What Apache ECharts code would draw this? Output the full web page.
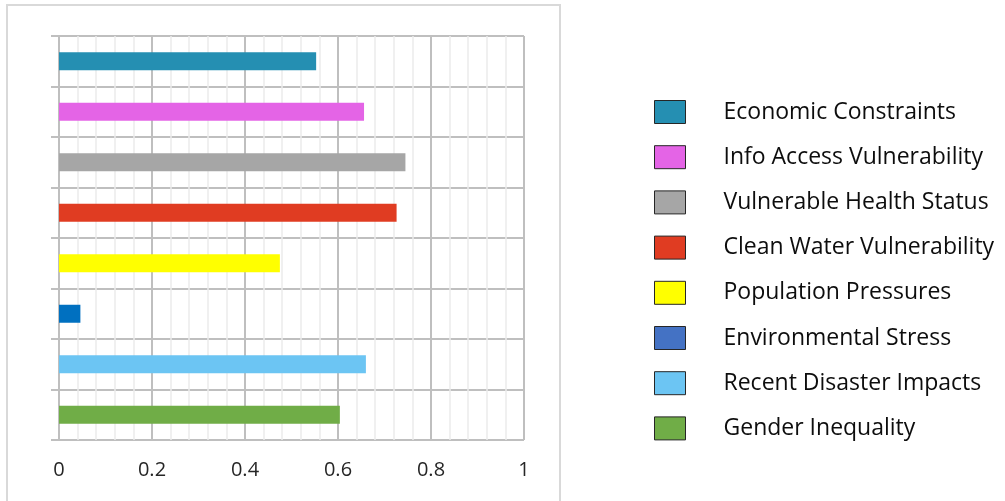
<!DOCTYPE html>
<html>
<head>
<meta charset="utf-8">
<script src="https://cdn.jsdelivr.net/npm/echarts@6/dist/echarts.min.js"></script>
<style>
  html, body { margin: 0; padding: 0; background: #fff; }
  #chart { width: 1005px; height: 501px; }
</style>
</head>
<body>
<div id="chart"></div>
<script>
const categories = [
  'Economic Constraints',
  'Info Access Vulnerability',
  'Vulnerable Health Status',
  'Clean Water Vulnerability',
  'Population Pressures',
  'Environmental Stress',
  'Recent Disaster Impacts',
  'Gender Inequality'
]
const values = [0.553, 0.656, 0.745, 0.726, 0.475, 0.046, 0.66, 0.604]
const barColors = ['#258fb2', '#e464e6', '#a6a6a6', '#e03c22', '#ffff00', '#0070c0', '#6cc5f3', '#70ad47']
const legendColors = ['#258fb2', '#e464e6', '#a6a6a6', '#e03c22', '#ffff00', '#4472c4', '#6cc5f3', '#70ad47']
const xTicks = [0, 0.2, 0.4, 0.6, 0.8, 1]

const FONT = '"Open Sans", sans-serif'
const GRID = '#bfbfbf'

const chart = echarts.init(document.getElementById('chart'), null, { renderer: 'canvas' })

// one series per category so each gets its own legend entry
const series = categories.map((name, i) => ({
  name,
  type: 'bar',
  stack: 'all',
  barWidth: 18,
  itemStyle: { color: barColors[i] },
  data: categories.map((_, j) => (j === i ? values[i] : '-')),
  animation: false
}))

chart.setOption({
  backgroundColor: '#fff',
  animation: false,
  graphic: [{
    type: 'rect',
    shape: { x: 7, y: 5, width: 553, height: 520 },
    style: { fill: 'transparent', stroke: '#d9d9d9', lineWidth: 2 },
    z: -10
  }],
  grid: { left: 59, right: 481, top: 36, bottom: 61 },
  xAxis: {
    type: 'value',
    min: xTicks[0],
    max: xTicks[xTicks.length - 1],
    interval: 0.2,
    axisLine: { show: false },
    axisTick: { show: false },
    axisLabel: {
      color: '#262626', fontSize: 20, fontFamily: FONT, margin: 20,
      formatter: (v) => String(+v.toFixed(1))
    },
    splitLine: { show: true, lineStyle: { color: GRID, width: 2 } },
    minorTick: { show: false, splitNumber: 5 },
    minorSplitLine: { show: true, lineStyle: { color: '#ebebeb', width: 1.5 } }
  },
  yAxis: {
    type: 'category',
    data: categories,
    inverse: true,
    axisLine: { show: true, lineStyle: { color: GRID, width: 2 } },
    axisTick: { show: true, length: 8, lineStyle: { color: GRID, width: 2 } },
    axisLabel: { show: false },
    splitLine: { show: true, lineStyle: { color: GRID, width: 2 } }
  },
  legend: {
    orient: 'vertical',
    left: 649,
    top: 95,
    icon: 'rect',
    itemWidth: 31,
    itemHeight: 23,
    itemGap: 21.2,
    textStyle: {
      color: '#0d0d0d', fontSize: 23, fontFamily: FONT, lineHeight: 23,
      padding: [0, 0, 0, 33]
    },
    data: categories.map((name, i) => ({
      name,
      itemStyle: { color: legendColors[i], borderColor: '#262626', borderWidth: 1 }
    }))
  },
  series
})
</script>
</body>
</html>
